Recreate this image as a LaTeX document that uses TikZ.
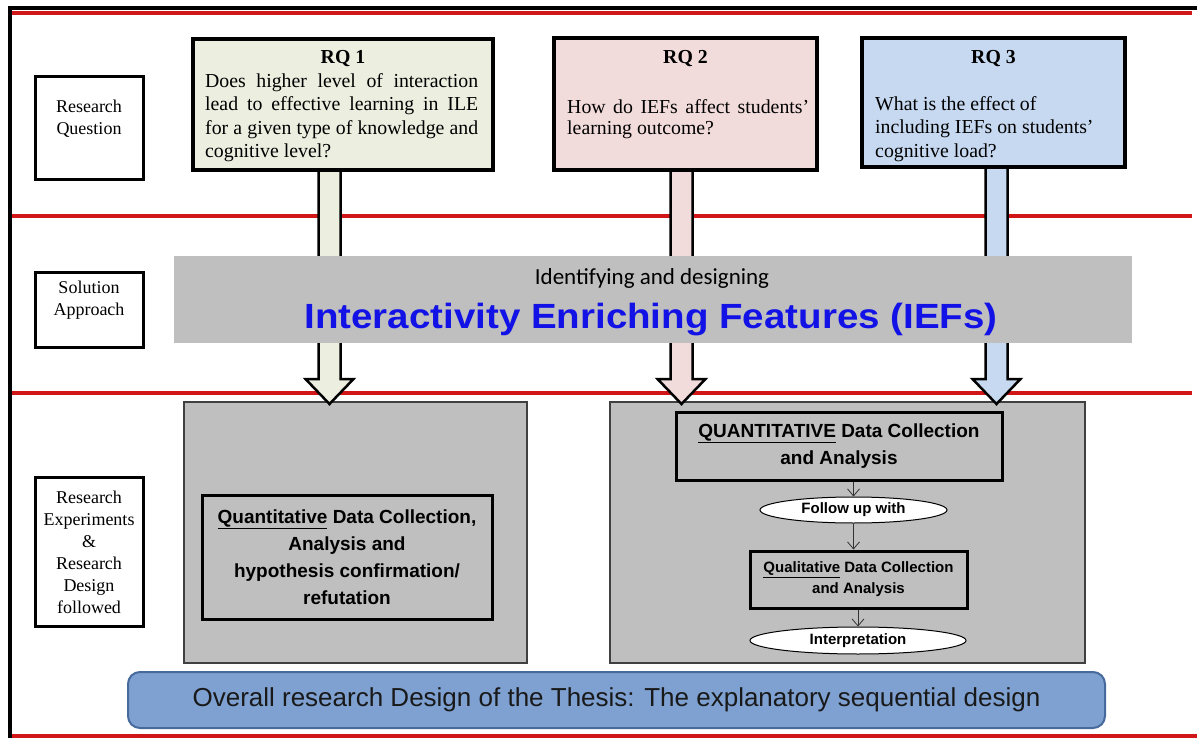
\documentclass[tikz,border=0pt]{standalone}
\usepackage{fontspec}
\setmainfont{Liberation Serif}
\setsansfont{Liberation Sans}
\newfontfamily\calibri{Carlito}
\usepackage{xcolor}
\usepackage{graphicx}
\usetikzlibrary{arrows.meta, shapes.geometric, calc}

\definecolor{rqgreen}{RGB}{236,238,224}
\definecolor{rqpink}{RGB}{242,220,219}
\definecolor{rqblue}{RGB}{198,217,241}
\definecolor{bandgray}{RGB}{191,191,191}
\definecolor{framered}{RGB}{208,22,22}
\definecolor{ieftext}{RGB}{18,18,230}
\definecolor{bannerblue}{RGB}{126,161,210}
\definecolor{bannerline}{RGB}{70,106,156}

\tikzset{
  labelbox/.style={draw, line width=3pt, fill=white},
  labeltext/.style={font=\fontsize{18pt}{22pt}\selectfont, align=center, inner sep=0pt},
  rqbox/.style={draw, line width=4pt},
  rqtext/.style={font=\fontsize{19.8pt}{23.5pt}\selectfont, align=left, inner sep=0pt},
  redline/.style={framered, line width=4pt},
  graybox/.style={draw=black!75, line width=1.2pt, fill=bandgray},
  databox/.style={draw, line width=3pt, align=center,
    font=\sffamily\bfseries\fontsize{19pt}{27pt}\selectfont},
  flowell/.style={ellipse, draw, line width=1pt, fill=white, inner sep=0pt,
    font=\sffamily\bfseries\fontsize{15pt}{18pt}\selectfont},
  flow/.style={-{Straight Barb[length=7pt, width=12pt]}, line width=0.8pt, black!80},
}

% block arrow from a box down to a tip
\newcommand{\fatarrow}[3]{%
  \draw[line width=2.5pt, fill=#3, line join=miter]
    let \p1=(#1), \p2=(#2) in
    (\x1-11pt,\y1) -- (\x1-11pt,\y2+25pt) -- (\x1-24pt,\y2+25pt) -- (\x2,\y2)
    -- (\x1+24pt,\y2+25pt) -- (\x1+11pt,\y2+25pt) -- (\x1+11pt,\y1);}

\begin{document}
\begin{tikzpicture}[x=1pt, y=-1pt]
\useasboundingbox (0,0) rectangle (1197,738);

% frame
\draw[redline] (12,13) -- (1192,13);
\draw[line width=4pt] (10,738) -- (10,8) -- (1197,8);
\draw[redline] (12,216) -- (1192,216);
\draw[redline] (12,393) -- (1192,393);
\draw[redline] (12,736) -- (1197,736);

% row labels
\node[labelbox, minimum width=108pt, minimum height=103pt] (rqlabel) at (89,128.5) {};
\node[labeltext] (rqlabeltext) at (89,119) {Research\\Question};
\node[labelbox, minimum width=108pt, minimum height=75pt] (sollabel) at (89,309.5) {};
\node[labeltext] (sollabeltext) at (89,300) {Solution\\Approach};
\node[labelbox, minimum width=108pt, minimum height=149pt] (explabel) at (89,551.5) {};
\node[labeltext] (explabeltext) at (89,552) {Research\\Experiments\\\&\\Research\\Design\\followed};

% experiment panels
\node[graybox, minimum width=343pt, minimum height=261pt] (leftexp) at (355.5,532.5) {};
\node[graybox, minimum width=475pt, minimum height=261pt] (rightexp) at (847.5,532.5) {};

% arrows from the questions
\coordinate (tip1) at (329.5,404);
\coordinate (tip2) at (681.5,404);
\coordinate (tip3) at (996.5,404);
\node[rqbox, minimum width=300pt, minimum height=131pt] (rq1) at (343,104.5) {};
\node[rqbox, minimum width=263pt, minimum height=132pt] (rq2) at (685.5,104) {};
\node[rqbox, minimum width=263pt, minimum height=129pt] (rq3) at (993.5,102.5) {};
\fatarrow{rq1.south -| tip1}{tip1}{rqgreen}
\fatarrow{rq2.south -| tip2}{tip2}{rqpink}
\fatarrow{rq3.south -| tip3}{tip3}{rqblue}

% research questions
\node[rqbox, fill=rqgreen, minimum width=300pt, minimum height=131pt] at (rq1) {};
\node[rqbox, fill=rqpink, minimum width=263pt, minimum height=132pt] at (rq2) {};
\node[rqbox, fill=rqblue, minimum width=263pt, minimum height=129pt] at (rq3) {};
\node[rqtext] (rq1title) at (343,59) {\bfseries RQ 1};
\node[rqtext, anchor=north west] (rq1text) at (205,73) {%
  \makebox[273pt][s]{Does higher level of interaction}\\
  \makebox[273pt][s]{lead to effective learning in ILE}\\
  \makebox[273pt][s]{for a given type of knowledge and}\\
  cognitive level?};
\node[rqtext] (rq2title) at (685.5,59) {\bfseries RQ 2};
\node[rqtext, anchor=north west, font=\fontsize{19.8pt}{21pt}\selectfont] (rq2text) at (567,99) {%
  \makebox[242pt][s]{How do IEFs affect students'}\\
  learning outcome?};
\node[rqtext] (rq3title) at (993.5,59) {\bfseries RQ 3};
\node[rqtext, anchor=north west] (rq3text) at (875,96) {%
  What is the effect of\\
  including IEFs on students'\\
  cognitive load?};

% solution approach band
\node[fill=bandgray, minimum width=958pt, minimum height=87pt] (band) at (653,299.5) {};
\node[font=\calibri\fontsize{23pt}{26pt}\selectfont] (bandtop) at (652,278) {Identifying and designing};
\node[font=\sffamily\bfseries\fontsize{35pt}{40pt}\selectfont, text=ieftext] (bandmain) at (651,320)
  {\scalebox{1.1}[1]{Interactivity Enriching Features (IEFs)}};

% left experiment
\node[databox, minimum width=290pt, minimum height=124pt] (quant) at (347,557)
  {\underline{Quantitative} Data Collection,\\Analysis and\\hypothesis confirmation/\\refutation};

% right experiment
\node[databox, minimum width=326pt, minimum height=68pt] (quanti) at (839,446)
  {\underline{QUANTITATIVE} Data Collection\\and Analysis};
\node[flowell, minimum width=187pt, minimum height=26pt] (follow) at (853.5,510) {Follow up with};
\node[databox, font=\sffamily\bfseries\fontsize{15pt}{21pt}\selectfont,
  minimum width=217pt, minimum height=57pt] (quali) at (858.5,579.5)
  {\underline{Qualitative} Data Collection\\and Analysis};
\node[flowell, minimum width=216pt, minimum height=27pt] (interp) at (858,640.5) {Interpretation};
\draw[flow] (quanti.south -| follow.north) -- (follow.north);
\draw[flow] (follow.south) -- (quali.north -| follow.south);
\draw[flow] (quali.south -| interp.north) -- (interp.north);

% banner
\node[draw=bannerline, line width=2pt, fill=bannerblue, rounded corners=12pt,
  minimum width=977pt, minimum height=56pt, text=black!90,
  font=\sffamily\fontsize{26pt}{30pt}\selectfont] (banner) at (616.5,700)
  {Overall research Design of the Thesis: The explanatory sequential design};

\end{tikzpicture}
\end{document}
